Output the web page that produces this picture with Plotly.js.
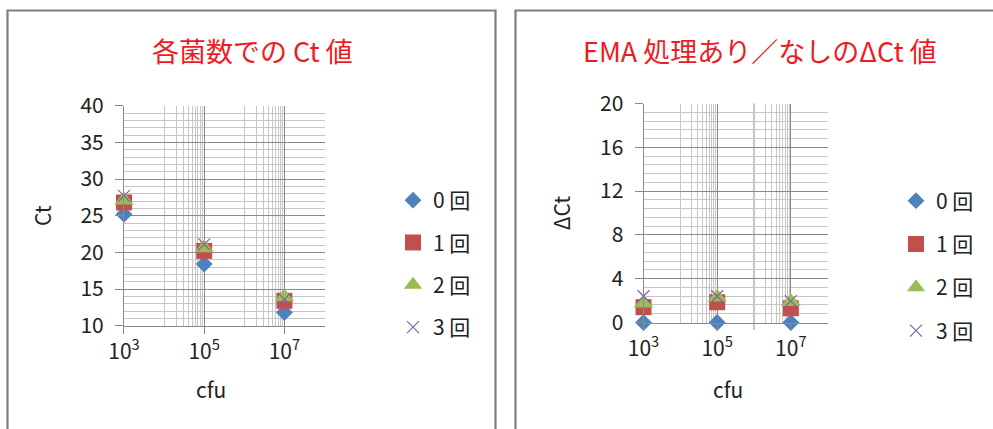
<!DOCTYPE html>
<html>
<head>
<meta charset="utf-8">
<script src="https://cdn.plot.ly/plotly-3.0.1.min.js"></script>
<style>
html,body{margin:0;padding:0;background:#fff;}
#chart{width:993px;height:429px;}
</style>
</head>
<body>
<div id="chart"></div>
<script>
// ---- data ----
const cfu = [1e3, 1e5, 1e7];
const seriesNames = ['0 回', '1 回', '2 回', '3 回'];
// left chart: Ct values
const ct0 = [25.2, 18.4, 11.8];
const ct1 = [26.8, 20.2, 13.4];
const ct2 = [27.1, 20.6, 13.9];
const ct3 = [27.7, 21.1, 13.6];
// right chart: ΔCt values
const dct0 = [0, 0, 0];
const dct1 = [1.4, 1.85, 1.3];
const dct2 = [1.75, 2.3, 1.9];
const dct3 = [2.4, 2.4, 1.95];
// tick labels
const xTickVals = [1e3, 1e5, 1e7];
const xTickText = ['10<sup>3</sup>', '10<sup>5</sup>', '10<sup>7</sup>'];
const titleLeft = '各菌数での Ct 値';
const titleRight = 'EMA 処理あり／なしのΔCt 値';
const xTitle = 'cfu';

// minor gridline positions of the log axis (Excel base-100 log, minor unit)
const minorX = [];
[1e4, 1e6].forEach(b => { for (let k = 1; k <= 9; k++) minorX.push(k * b); });
minorX.push(1e8);

// ---- styles ----
const FONT = '"Noto Sans CJK JP", "Noto Sans", sans-serif';
const TXT = '#222222';
const colors = ['#4F81BD', '#C0504D', '#9BBB59', '#8064A2'];
const markers = [
  {symbol: 'diamond', size: 13, color: colors[0]},
  {symbol: 'square', size: 16, color: colors[1]},
  {symbol: 'triangle-up', size: 17, color: colors[2]},
  {symbol: 'x-thin-open', size: 12, color: colors[3], line: {color: colors[3], width: 1.2}}
];
const MAJ = '#8a8a8a', MIN = '#c6c6c6';

const leftVals = [ct0, ct1, ct2, ct3];
const rightVals = [dct0, dct1, dct2, dct3];
const traces = [];
leftVals.forEach((v, i) => traces.push({
  type: 'scatter', mode: 'markers', x: cfu, y: v, name: seriesNames[i],
  xaxis: 'x', yaxis: 'y', marker: markers[i], cliponaxis: false,
  legend: 'legend', legendgroup: 'L' + i
}));
rightVals.forEach((v, i) => traces.push({
  type: 'scatter', mode: 'markers', x: cfu, y: v, name: seriesNames[i],
  xaxis: 'x2', yaxis: 'y2', marker: markers[i], cliponaxis: false,
  legend: 'legend2', legendgroup: 'R' + i
}));

function xAxis(domain, anchor) {
  return {
    type: 'log', range: [2.99999, 8.00001], domain: domain, anchor: anchor,
    tickmode: 'array', tickvals: xTickVals, ticktext: xTickText,
    ticks: 'outside', ticklen: 7, tickcolor: MAJ, tickwidth: 1,
    showgrid: true, gridcolor: MAJ, gridwidth: 1,
    minor: {tickmode: 'array', tickvals: minorX, showgrid: true, gridcolor: MIN, gridwidth: 1, ticks: ''},
    showline: true, linecolor: MAJ, linewidth: 1, zeroline: false,
    tickfont: {family: FONT, size: 21, color: TXT},
    fixedrange: true
  };
}
function yAxis(domain, anchor, range, dtick, mdtick, title) {
  return {
    range: range, domain: domain, anchor: anchor,
    tickmode: 'linear', tick0: range[0], dtick: dtick,
    ticks: 'outside', ticklen: 8, tickcolor: MAJ, tickwidth: 1,
    ticklabelstandoff: 7,
    showgrid: true, gridcolor: MAJ, gridwidth: 1,
    minor: {dtick: mdtick, showgrid: true, gridcolor: MIN, gridwidth: 1, ticks: ''},
    showline: true, linecolor: MAJ, linewidth: 1, zeroline: false,
    tickfont: {family: FONT, size: 21, color: TXT},
    title: {text: title, font: {family: FONT, size: 21, color: TXT}, standoff: 23},
    fixedrange: true
  };
}

const legendCommon = {
  font: {family: FONT, size: 21, color: TXT},
  bgcolor: 'rgba(0,0,0,0)', borderwidth: 0,
  traceorder: 'grouped',
  xanchor: 'left', yanchor: 'top', itemclick: false, itemdoubleclick: false
};

const layout = {
  width: 993, height: 429, autosize: false,
  margin: {l: 0, r: 0, t: 0, b: 0, pad: 0},
  paper_bgcolor: '#ffffff', plot_bgcolor: '#ffffff',
  font: {family: FONT, color: TXT},
  showlegend: true,
  xaxis: xAxis([0.12487, 0.32679], 'y'),
  yaxis: yAxis([0.24079, 0.75361], 'x', [10, 40], 5, 1, 'Ct'),
  xaxis2: xAxis([0.64804, 0.83353], 'y2'),
  yaxis2: yAxis([0.24825, 0.75874], 'x2', [0, 20], 4, 0.8, 'ΔCt'),
  legend: Object.assign({x: 393 / 993, y: 1 - 180 / 429, tracegroupgap: 12}, legendCommon),
  legend2: Object.assign({x: 896 / 993, y: 1 - 180.5 / 429, tracegroupgap: 13}, legendCommon),
  annotations: [
    {text: titleLeft, xref: 'paper', yref: 'paper', x: 252 / 993, y: 1 - 51 / 429,
     xanchor: 'center', yanchor: 'middle', showarrow: false,
     font: {family: FONT, size: 27, color: '#ED1C24'}},
    {text: titleRight, xref: 'paper', yref: 'paper', x: 759.5 / 993, y: 1 - 51 / 429,
     xanchor: 'center', yanchor: 'middle', showarrow: false,
     font: {family: FONT, size: 27, color: '#ED1C24'}},
    {text: xTitle, xref: 'paper', yref: 'paper', x: 210.5 / 993, y: 1 - 389 / 429,
     xanchor: 'center', yanchor: 'middle', showarrow: false,
     font: {family: FONT, size: 21, color: TXT}},
    {text: xTitle, xref: 'paper', yref: 'paper', x: 727.5 / 993, y: 1 - 389 / 429,
     xanchor: 'center', yanchor: 'middle', showarrow: false,
     font: {family: FONT, size: 21, color: TXT}}
  ],
  shapes: [
    {type: 'rect', xref: 'paper', yref: 'paper', x0: 7.5 / 993, x1: 495.5 / 993, y0: -0.05, y1: 1 - 10.5 / 429,
     line: {color: '#7f7f7f', width: 2.2}, fillcolor: 'rgba(0,0,0,0)', layer: 'below'},
    {type: 'rect', xref: 'paper', yref: 'paper', x0: 515.5 / 993, x1: 1.05, y0: -0.05, y1: 1 - 10.5 / 429,
     line: {color: '#7f7f7f', width: 2.2}, fillcolor: 'rgba(0,0,0,0)', layer: 'below'},
    {type: 'line', xref: 'x2', yref: 'y2 domain', x0: 1e6, x1: 1e6, y0: -0.035, y1: 1,
     line: {color: MAJ, width: 1}, layer: 'below'}
  ]
};

Plotly.newPlot('chart', traces, layout, {displayModeBar: false, staticPlot: true});
</script>
</body>
</html>
